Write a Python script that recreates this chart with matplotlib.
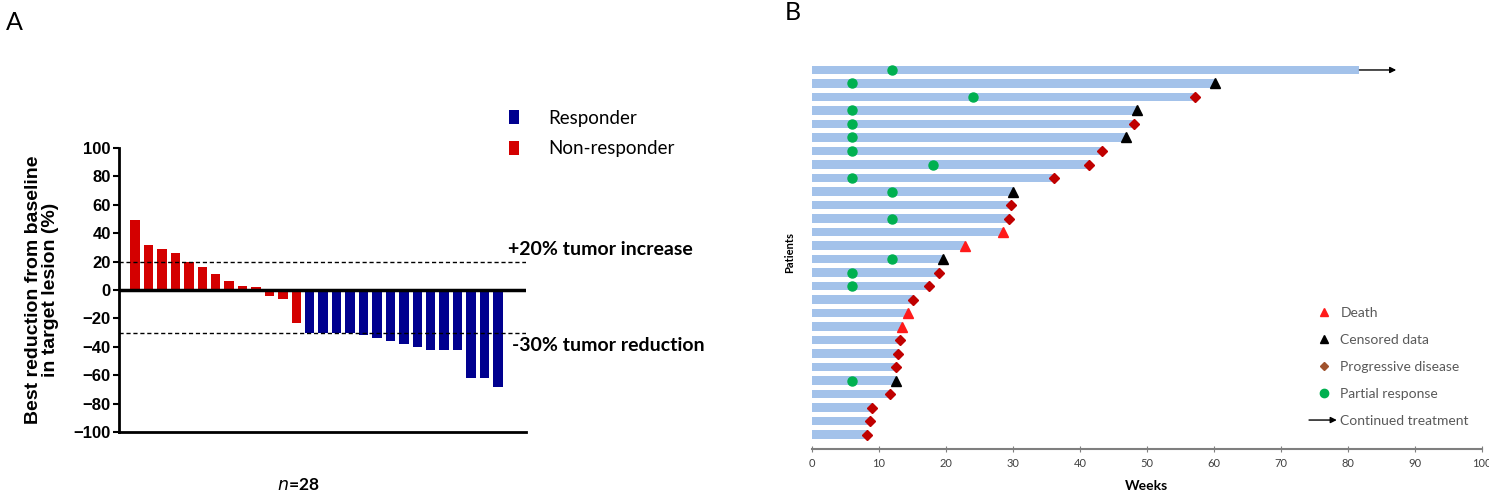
import numpy as np
import matplotlib
matplotlib.use('Agg')
import matplotlib.pyplot as plt
import matplotlib.transforms as mtransforms
from matplotlib.lines import Line2D
from matplotlib.patches import FancyArrowPatch
from matplotlib.legend_handler import HandlerBase

# ---- panel A data: best change from baseline (%) per patient
change = [49, 32, 29, 26, 20, 16, 11, 6, 2.5, 2, -4.5, -6, -23,
          -30, -30, -30, -30, -31.5, -34, -36, -38, -40, -42, -42, -42,
          -62, -62, -68]
response = ['N'] * 13 + ['R'] * 15
a_yticks = list(range(-100, 101, 20))

# ---- panel B data: swimmer plot
weeks = [81.7, 60.1, 57.2, 48.5, 48.1, 46.8, 43.3, 41.4, 36.1, 30.0,
         29.7, 29.4, 28.5, 22.8, 19.5, 18.9, 17.5, 15.1, 14.4, 13.5,
         13.1, 12.8, 12.6, 12.5, 11.6, 9.0, 8.6, 8.2]
events = ['cont', 'cens', 'pd', 'cens', 'pd', 'cens', 'pd', 'pd', 'pd', 'cens',
          'pd', 'pd', 'death', 'death', 'cens', 'pd', 'pd', 'pd', 'death', 'death',
          'pd', 'pd', 'pd', 'cens', 'pd', 'pd', 'pd', 'pd']
pr_week = [12, 6, 24, 6, 6, 6, 6, 18, 6, 12,
           None, 12, None, None, 12, 6, 6, None, None, None,
           None, None, None, 6, None, None, None, None]
arrow_end = 87.2
b_xticks = list(range(0, 101, 10))

RED = '#d40000'
NAVY = '#00008f'
BAR = '#a3c2ea'

fig = plt.figure(figsize=(14.89, 4.95), dpi=100)

# ================= panel A =================
ax1 = fig.add_axes([0.0799, 0.1273, 0.2734, 0.5737])
x = np.arange(len(change))
vals = np.array(change)
resp = np.array(response)
ax1.bar(x[resp == 'R'], vals[resp == 'R'], width=0.7, color=NAVY, label='Responder')
ax1.bar(x[resp == 'N'], vals[resp == 'N'], width=0.7, color=RED, label='Non-responder')
ax1.axhline(0, color='black', lw=2.5, zorder=3)
ax1.axhline(20, color='black', lw=1, ls=(0, (3, 2)))
ax1.axhline(-30, color='black', lw=1, ls=(0, (3, 2)))
ax1.set_xlim(-1.2, 29.1)
ax1.set_ylim(-100, 100)
ax1.set_xticks([])
ax1.set_yticks(a_yticks)
for s in ['top', 'right']:
    ax1.spines[s].set_visible(False)
ax1.spines['left'].set_linewidth(2)
ax1.spines['bottom'].set_linewidth(2)
ax1.tick_params(axis='y', length=4, width=1.5, pad=2)
for lab in ax1.get_yticklabels():
    lab.set_fontfamily('Liberation Sans')
    lab.set_fontweight('bold')
    lab.set_fontsize(12)
ax1.set_ylabel('Best reduction from baseline\nin target lesion (%)', fontsize=14,
               fontweight='bold', family='Liberation Sans', labelpad=10, linespacing=1.05)

tr = mtransforms.blended_transform_factory(ax1.transAxes, ax1.transData)
ax1.text(0.955, 22.5, '+20% tumor increase', transform=tr, fontsize=14,
         fontweight='bold', family='Lato', va='bottom', ha='left')
ax1.text(0.965, -33, '-30% tumor reduction', transform=tr, fontsize=14,
         fontweight='bold', family='Lato', va='top', ha='left')
ax1.text(0.44, -137, r'$\bf{\it{n}}$' + '=28', transform=tr, fontsize=12.5,
         fontweight='bold', family='Lato', ha='center', va='center')

ax1.legend(loc='upper left', bbox_to_anchor=(0.3418, 0.778), bbox_transform=fig.transFigure,
           frameon=False, prop={'family': 'Lato', 'size': 13.5},
           handlelength=0.55, handleheight=0.75, handletextpad=1.55, labelspacing=0.72,
           borderpad=0, borderaxespad=0)

fig.text(0.004, 0.955, 'A', fontsize=18, family='Lato', va='center')
fig.text(0.527, 0.975, 'B', fontsize=18, family='Lato', va='center')

# ================= panel B =================
ax2 = fig.add_axes([0.5453, 0.0929, 0.4500, 0.793])
y = np.arange(len(weeks))
ax2.barh(y, weeks, height=0.62, color=BAR)
ax2.set_xlim(0, 100)
ax2.set_ylim(28.07, -1)
ax2.set_xticks(b_xticks)
ax2.set_yticks([])
for s in ['top', 'right', 'left']:
    ax2.spines[s].set_visible(False)
ax2.spines['bottom'].set_color('#7f7f7f')
ax2.spines['bottom'].set_linewidth(1.5)
ax2.tick_params(axis='x', direction='inout', length=5, color='#7f7f7f',
                labelsize=8, labelcolor='#404040', pad=4)
for lab in ax2.get_xticklabels():
    lab.set_fontfamily('Lato')
ax2.set_xlabel('Weeks', fontsize=10, fontweight='bold', family='Lato', labelpad=8)
ax2.set_ylabel('Patients', fontsize=8, fontweight='bold', family='Lato', labelpad=12)

style = {
    'death': dict(marker='^', color='#ff1a1a', ms=7),
    'cens': dict(marker='^', color='black', ms=7),
    'pd': dict(marker='D', color='#c00000', ms=5),
}
for i, (w, e) in enumerate(zip(weeks, events)):
    if e in style:
        ax2.plot(w, i, ls='none', zorder=4, **style[e])
    else:
        ax2.annotate('', xy=(arrow_end, i), xytext=(w, i),
                     arrowprops=dict(arrowstyle='-|>', color='black', lw=1,
                                     mutation_scale=9, shrinkA=0, shrinkB=0))
    if pr_week[i] is not None:
        ax2.plot(pr_week[i], i, ls='none', marker='o', color='#00b050', ms=6.5, zorder=4)


class ArrowHandler(HandlerBase):
    def create_artists(self, legend, orig_handle, xdescent, ydescent,
                       width, height, fontsize, trans):
        a = FancyArrowPatch((-xdescent - 4, height / 2 - ydescent),
                            (width - xdescent + 2, height / 2 - ydescent),
                            arrowstyle='-|>', mutation_scale=9, color='black',
                            lw=1, transform=trans)
        return [a]


arrow_handle = Line2D([], [])
handles = [Line2D([], [], ls='none', marker='^', color='#ff1a1a', ms=6),
           Line2D([], [], ls='none', marker='^', color='black', ms=6),
           Line2D([], [], ls='none', marker='D', color='#a0522d', ms=4.5),
           Line2D([], [], ls='none', marker='o', color='#00b050', ms=6),
           arrow_handle]
labels = ['Death', 'Censored data', 'Progressive disease', 'Partial response',
          'Continued treatment']
fig.legend(handles, labels, loc='upper left', bbox_to_anchor=(0.881, 0.38),
           frameon=False, prop={'family': 'Lato', 'size': 10}, labelcolor='#595959',
           handlelength=1.8, handletextpad=0.25, labelspacing=1.08,
           borderpad=0, borderaxespad=0, handler_map={arrow_handle: ArrowHandler()})

fig.savefig('out.png', dpi=100)
